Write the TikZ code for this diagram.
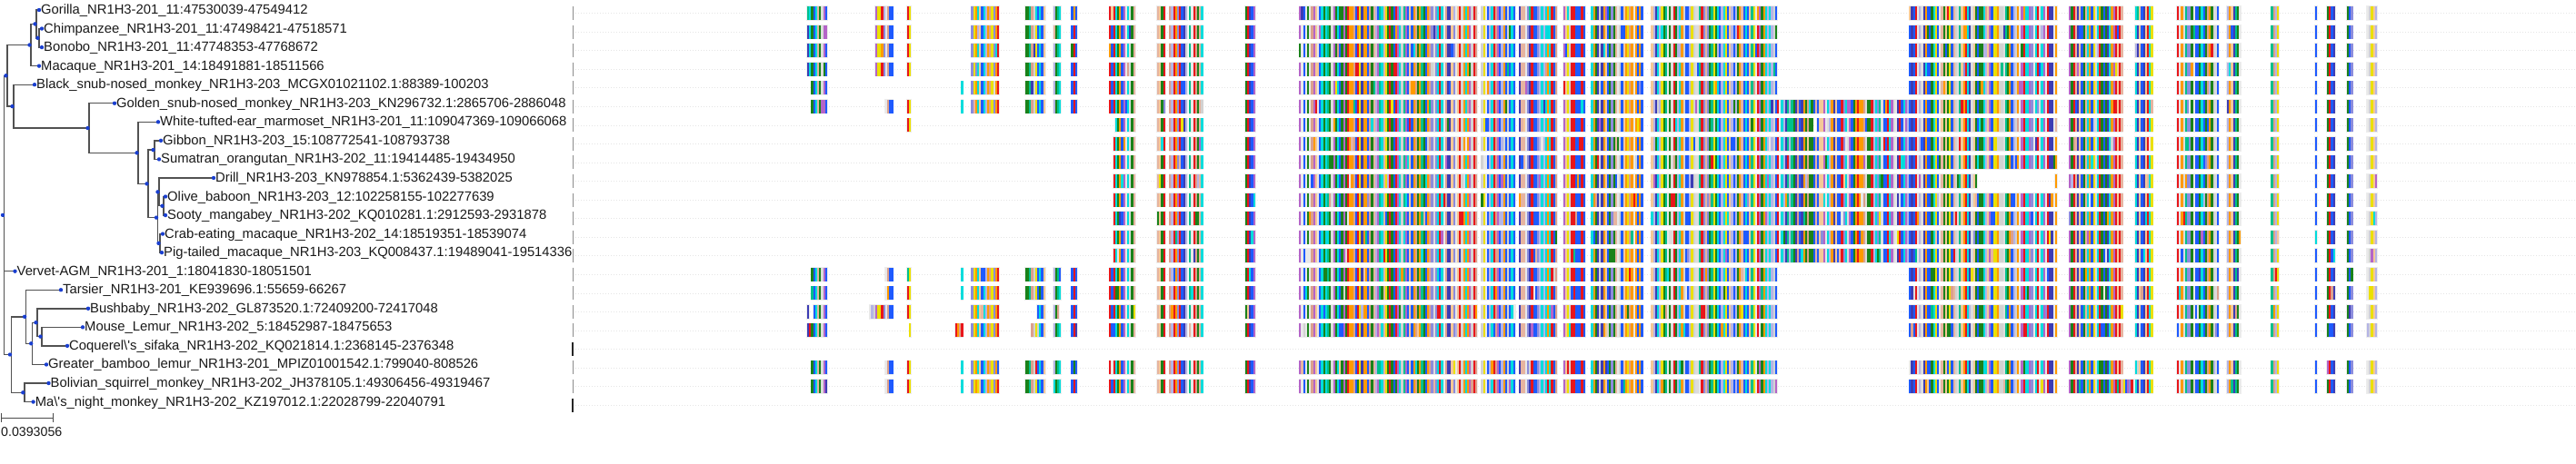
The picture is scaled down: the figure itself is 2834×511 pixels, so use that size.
\documentclass[tikz,border=0pt]{standalone}
\usepackage{fontspec}
\newfontfamily\lab{Liberation Sans}[Ligatures=TeXOff]
\definecolor{dotblue}{HTML}{1A3FD0}
\definecolor{al0}{HTML}{1E5AFF}
\definecolor{al1}{HTML}{1E5AFF}
\definecolor{al2}{HTML}{1A821A}
\definecolor{al3}{HTML}{1A821A}
\definecolor{al4}{HTML}{E8161B}
\definecolor{al5}{HTML}{E8161B}
\definecolor{al6}{HTML}{FF9A00}
\definecolor{al7}{HTML}{FF9A00}
\definecolor{al8}{HTML}{EBE000}
\definecolor{al9}{HTML}{00DCDC}
\definecolor{al10}{HTML}{00DCDC}
\definecolor{al11}{HTML}{8C8CDC}
\definecolor{al12}{HTML}{B4B4E6}
\definecolor{al13}{HTML}{DCA08C}
\definecolor{al14}{HTML}{E6B4A0}
\definecolor{al15}{HTML}{D2D2D2}
\definecolor{al16}{HTML}{DCDCDC}
\definecolor{al17}{HTML}{E8E8E8}
\definecolor{al18}{HTML}{3C3CB4}
\definecolor{al19}{HTML}{00C08C}
\definecolor{al20}{HTML}{1E5AFF}
\definecolor{al21}{HTML}{F5C896}
\definecolor{al22}{HTML}{B464C8}
\newcount\kk \newcount\kend \newcount\hh \newcount\tmpc \newcount\rr \newcount\vv
\newdimen\sx \newdimen\sy
\def\modto#1#2#3{#1=\numexpr#2\relax\tmpc=#1\divide\tmpc by #3\multiply\tmpc by #3\advance#1 by -\tmpc\relax}
\def\stripeloop{%
  \ifnum\kk<\kend
    \modto\hh{\kk*\kk*17+\kk*5+3}{997}%
    \modto\hh{\hh*\hh*7+\kk*3+1}{23}%
    \modto\vv{\kk*7+\rr*13}{19}%
    \ifnum\vv=0 \modto\hh{\hh+\rr+1}{23}\fi
    \sx=\dimexpr888pt+2.2pt*\kk\relax
    \edef\cname{al\the\hh}%
    \pgfsetfillcolor{\cname}%
    \pgfpathrectangle{\pgfqpoint{\sx}{\sy}}{\pgfqpoint{2.25pt}{15pt}}%
    \pgfusepath{fill}%
    \advance\kk by 1
    \expandafter\stripeloop
  \fi}
\newcommand\seg[3]{%
  \pgfmathtruncatemacro\ks{round((#2-888)/2.2)}%
  \pgfmathtruncatemacro\ke{round((#3-888)/2.2)}%
  \ifnum\ke=\ks \pgfmathtruncatemacro\ke{\ks+1}\fi
  \fill[black!7] ({888+2.2*\ks-0.7},{14.5+20.55*#1-8.2}) rectangle ({888+2.2*\ke+0.7},{14.5+20.55*#1+8.2});
  \kk=\ks\relax \kend=\ke\relax \rr=#1\relax
  \sy=\dimexpr -22pt - 20.55pt*\rr\relax
  \stripeloop}
\newcommand\drawrow[2]{\foreach \s/\e in #2 {\seg{#1}{\s}{\e}}}
\def\Lfull{888/909, 962/982, 998/1002, 1068/1100, 1128/1150, 1159/1167, 1178/1184, 1221/1249, 1273/1282, 1287/1305, 1308/1324, 1370/1380}
\def\Lblack{892/911, 1057/1059, 1068/1100, 1128/1150, 1159/1167, 1178/1184, 1221/1249, 1273/1282, 1287/1305, 1308/1324, 1370/1380}
\def\Lgolden{892/911, 973/982, 998/1002, 1057/1059, 1068/1100, 1128/1150, 1159/1167, 1178/1184, 1221/1249, 1273/1282, 1287/1305, 1308/1324, 1370/1380}
\def\Lwhite{998/1002, 1226/1249, 1273/1282, 1287/1305, 1308/1324, 1370/1380}
\def\Lold{1224/1249, 1273/1282, 1287/1305, 1308/1324, 1370/1380}
\def\Lbush{888/890.5, 895/911, 956/982, 998/1002, 1068/1100, 1141/1150, 1159/1165, 1179/1184, 1221/1249, 1273/1282, 1287/1305, 1308/1324, 1370/1380}
\def\Lmouse{888/909, 1000/1002, 1050/1059, 1068/1100, 1134/1150, 1159/1167, 1178/1184, 1221/1249, 1273/1282, 1287/1305, 1308/1324, 1370/1380}
\def\Mcommon{1430/1625, 1630/1666, 1671/1713, 1719/1744, 1751/1808}
\def\Mshort{1817/1954, 2099.5/2264}
\def\Mlong{1817/2264}
\def\Mwhite{1817/1995, 2000/2264}
\def\Mdrill{1817/2175, 2261/2263}
\def\Rcommon{2275.5/2336, 2348.5/2369, 2394/2442, 2449/2465, 2499/2508, 2547/2549, 2561/2568, 2581/2588, 2604/2615}
\def\Rbol{2275.5/2369, 2394/2442, 2449/2465, 2499/2508, 2547/2549, 2561/2568, 2581/2588, 2604/2615}
\begin{document}
\begin{tikzpicture}[x=1pt,y=-1pt,
  br/.style={draw=black!68,line width=1.4pt},
  lbl/.style={anchor=base west,inner sep=0pt,font=\lab\fontsize{14.8}{16}\selectfont,text=black!90},
  rowdot/.style={draw=black!10,line width=0.5pt,dash pattern=on 1pt off 2pt},
  sepl/.style={draw=black!45,line width=0.8pt},
  sepd/.style={draw=black!85,line width=1.4pt}]
\fill[white] (0,0) rectangle (2834,511);
\useasboundingbox (0,0) rectangle (2834,511);
% row guide lines and separators
\foreach \r in {0,...,21}{
  \draw[rowdot] (633,{14.5+20.55*\r}) -- (2834,{14.5+20.55*\r});
}
\foreach \r in {0,...,17,19,20}{
  \draw[sepl] (630,{14.5+20.55*\r-7.5}) -- (630,{14.5+20.55*\r+7.5});
}
\foreach \r in {18,21}{
  \draw[sepd] (630,{14.5+20.55*\r-7.5}) -- (630,{14.5+20.55*\r+7.5});
}
% alignment
\begin{pgfscope}
\foreach \r in {0,1,2,3}{\drawrow{\r}{\Lfull}\drawrow{\r}{\Mcommon}\drawrow{\r}{\Mshort}\drawrow{\r}{\Rcommon}}
\drawrow{4}{\Lblack}\drawrow{4}{\Mcommon}\drawrow{4}{\Mshort}\drawrow{4}{\Rcommon}
\drawrow{5}{\Lgolden}\drawrow{5}{\Mcommon}\drawrow{5}{\Mlong}\drawrow{5}{\Rcommon}
\drawrow{6}{\Lwhite}\drawrow{6}{\Mcommon}\drawrow{6}{\Mwhite}\drawrow{6}{\Rcommon}
\foreach \r in {7,8,10,11,12,13}{\drawrow{\r}{\Lold}\drawrow{\r}{\Mcommon}\drawrow{\r}{\Mlong}\drawrow{\r}{\Rcommon}}
\drawrow{9}{\Lold}\drawrow{9}{\Mcommon}\drawrow{9}{\Mdrill}\drawrow{9}{\Rcommon}
\foreach \r in {14,15,19}{\drawrow{\r}{\Lgolden}\drawrow{\r}{\Mcommon}\drawrow{\r}{\Mshort}\drawrow{\r}{\Rcommon}}
\drawrow{16}{\Lbush}\drawrow{16}{\Mcommon}\drawrow{16}{\Mshort}\drawrow{16}{\Rcommon}
\drawrow{17}{\Lmouse}\drawrow{17}{\Mcommon}\drawrow{17}{\Mshort}\drawrow{17}{\Rcommon}
\drawrow{20}{\Lgolden}\drawrow{20}{\Mcommon}\drawrow{20}{\Mshort}\drawrow{20}{\Rbol}
\end{pgfscope}
% leaves
\coordinate (l0) at (43,11);
\coordinate (l1) at (46,31.55);
\coordinate (l2) at (46,52.1);
\coordinate (l3) at (43,72.65);
\coordinate (l4) at (38,93.2);
\coordinate (l5) at (126,113.75);
\coordinate (l6) at (174,134.3);
\coordinate (l7) at (177,154.85);
\coordinate (l8) at (175,175.4);
\coordinate (l9) at (235,195.95);
\coordinate (l10) at (182,216.5);
\coordinate (l11) at (182,237.05);
\coordinate (l12) at (179,257.6);
\coordinate (l13) at (178,278.15);
\coordinate (l14) at (16.5,298.7);
\coordinate (l15) at (67,319.25);
\coordinate (l16) at (97,339.8);
\coordinate (l17) at (91,360.35);
\coordinate (l18) at (74,380.9);
\coordinate (l19) at (51,401.45);
\coordinate (l20) at (53.5,422);
\coordinate (l21) at (36.6,442.55);
% internal nodes
\coordinate (CB) at (43,41.83);
\coordinate (GCB) at (40,26.41);
\coordinate (Hom) at (34,49.53);
\coordinate (A) at (8,83.33);
\coordinate (BlkN) at (15,117.12);
\coordinate (GolN) at (98,141.04);
\coordinate (WhN) at (152,168.34);
\coordinate (GOW) at (163,202.37);
\coordinate (GS) at (170,165.13);
\coordinate (OW) at (173.5,239.62);
\coordinate (P) at (175,211.36);
\coordinate (OS) at (180,226.78);
\coordinate (Q) at (176,267.88);
\coordinate (Root) at (4.5,236.9);
\coordinate (S) at (12.5,390.5);
\coordinate (T) at (28.6,348.8);
\coordinate (L1) at (35.7,378.3);
\coordinate (L2) at (41,355.2);
\coordinate (L3) at (46,370.63);
\coordinate (NW) at (26.8,432.3);
% branches
\foreach \p/\c in {Root/A, Root/l14, Root/S, A/Hom, A/BlkN, Hom/GCB, Hom/l3, GCB/l0, GCB/CB, CB/l1, CB/l2,
  BlkN/l4, BlkN/GolN, GolN/l5, GolN/WhN, WhN/l6, WhN/GOW, GOW/GS, GOW/OW, GS/l7, GS/l8, OW/P, OW/Q,
  P/l9, P/OS, OS/l10, OS/l11, Q/l12, Q/l13, S/T, S/NW, T/l15, T/L1, L1/L2, L1/l19, L2/l16, L2/L3,
  L3/l17, L3/l18, NW/l20, NW/l21}{
  \draw[br] (\p) |- (\c);
}
\foreach \n in {l0,l1,l2,l3,l4,l5,l6,l7,l8,l9,l10,l11,l12,l13,l14,l15,l16,l17,l18,l19,l20,l21}{
  \fill[dotblue] (\n) circle (2.2);
}
\foreach \n in {CB,GCB,Hom,A,BlkN,GolN,WhN,GOW,GS,OW,P,OS,Q,Root,S,T,L1,L2,L3,NW}{
  \fill[dotblue] ([xshift=-1.5pt]\n) circle (2.2);
}
% labels
\node[lbl] (t0) at ([xshift=2pt,yshift=-4.5pt]l0) {Gorilla\_NR1H3-201\_11:47530039-47549412};
\node[lbl] (t1) at ([xshift=2pt,yshift=-4.5pt]l1) {Chimpanzee\_NR1H3-201\_11:47498421-47518571};
\node[lbl] (t2) at ([xshift=2pt,yshift=-4.5pt]l2) {Bonobo\_NR1H3-201\_11:47748353-47768672};
\node[lbl] (t3) at ([xshift=2pt,yshift=-4.5pt]l3) {Macaque\_NR1H3-201\_14:18491881-18511566};
\node[lbl] (t4) at ([xshift=2pt,yshift=-4.5pt]l4) {Black\_snub-nosed\_monkey\_NR1H3-203\_MCGX01021102.1:88389-100203};
\node[lbl] (t5) at ([xshift=2pt,yshift=-4.5pt]l5) {Golden\_snub-nosed\_monkey\_NR1H3-203\_KN296732.1:2865706-2886048};
\node[lbl] (t6) at ([xshift=2pt,yshift=-4.5pt]l6) {White-tufted-ear\_marmoset\_NR1H3-201\_11:109047369-109066068};
\node[lbl] (t7) at ([xshift=2pt,yshift=-4.5pt]l7) {Gibbon\_NR1H3-203\_15:108772541-108793738};
\node[lbl] (t8) at ([xshift=2pt,yshift=-4.5pt]l8) {Sumatran\_orangutan\_NR1H3-202\_11:19414485-19434950};
\node[lbl] (t9) at ([xshift=2pt,yshift=-4.5pt]l9) {Drill\_NR1H3-203\_KN978854.1:5362439-5382025};
\node[lbl] (t10) at ([xshift=2pt,yshift=-4.5pt]l10) {Olive\_baboon\_NR1H3-203\_12:102258155-102277639};
\node[lbl] (t11) at ([xshift=2pt,yshift=-4.5pt]l11) {Sooty\_mangabey\_NR1H3-202\_KQ010281.1:2912593-2931878};
\node[lbl] (t12) at ([xshift=2pt,yshift=-4.5pt]l12) {Crab-eating\_macaque\_NR1H3-202\_14:18519351-18539074};
\node[lbl] (t13) at ([xshift=2pt,yshift=-4.5pt]l13) {Pig-tailed\_macaque\_NR1H3-203\_KQ008437.1:19489041-19514336};
\node[lbl] (t14) at ([xshift=2pt,yshift=-4.5pt]l14) {Vervet-AGM\_NR1H3-201\_1:18041830-18051501};
\node[lbl] (t15) at ([xshift=2pt,yshift=-4.5pt]l15) {Tarsier\_NR1H3-201\_KE939696.1:55659-66267};
\node[lbl] (t16) at ([xshift=2pt,yshift=-4.5pt]l16) {Bushbaby\_NR1H3-202\_GL873520.1:72409200-72417048};
\node[lbl] (t17) at ([xshift=2pt,yshift=-4.5pt]l17) {Mouse\_Lemur\_NR1H3-202\_5:18452987-18475653};
\node[lbl] (t18) at ([xshift=2pt,yshift=-4.5pt]l18) {Coquerel\textbackslash'{}s\_sifaka\_NR1H3-202\_KQ021814.1:2368145-2376348};
\node[lbl] (t19) at ([xshift=2pt,yshift=-4.5pt]l19) {Greater\_bamboo\_lemur\_NR1H3-201\_MPIZ01001542.1:799040-808526};
\node[lbl] (t20) at ([xshift=2pt,yshift=-4.5pt]l20) {Bolivian\_squirrel\_monkey\_NR1H3-202\_JH378105.1:49306456-49319467};
\node[lbl] (t21) at ([xshift=2pt,yshift=-4.5pt]l21) {Ma\textbackslash'{}s\_night\_monkey\_NR1H3-202\_KZ197012.1:22028799-22040791};
% scale bar
\coordinate (sb1) at (1.3,460);
\coordinate (sb2) at (58,460);
\draw[black!70,line width=1pt] (sb1) -- (sb2);
\draw[black!70,line width=1pt] ([yshift=5pt]sb1) -- ([yshift=-5pt]sb1);
\draw[black!70,line width=1pt] ([yshift=5pt]sb2) -- ([yshift=-5pt]sb2);
\node[lbl,font=\lab\fontsize{14.2}{16}\selectfont] (sbt) at (1,480) {0.0393056};
\end{tikzpicture}
\end{document}
